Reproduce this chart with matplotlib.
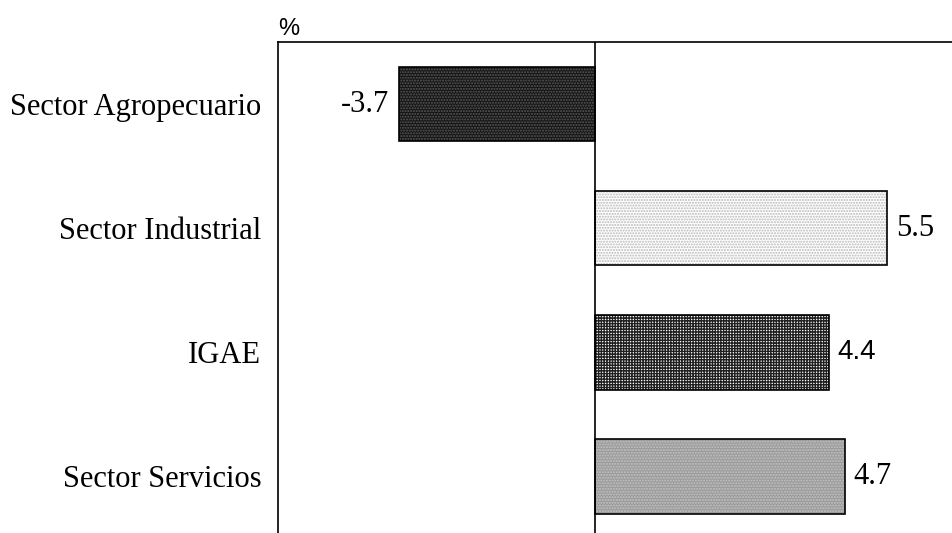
#!/usr/bin/env python3

import matplotlib; matplotlib.use('Agg')
import matplotlib.pyplot as plt

labels = ['Sector Agropecuario', 'Sector Industrial', 'IGAE', 'Sector Servicios']
values = [-3.7, 5.5, 4.4, 4.7]
value_fonts = ['Liberation Serif', 'Liberation Serif', 'Liberation Sans', 'Liberation Serif']
faces = ['#141414', '#ffffff', '#ffffff', '#9a9a9a']
hatch_colors = ['#5a5a5a', '#b8b8b8', '#202020', '#c4c4c4']
hatches = ['......', '......', '++++++', '......']

fig = plt.figure(figsize=[9.53, 5.33], dpi=100)
ax = fig.add_axes([278 / 953, -0.0103, 1.0, 0.9315])

ypos = list(range(len(labels)))
# Patterned fill first, then a plain black outline on top
for y, v, fc, hc, h in zip(ypos, values, faces, hatch_colors, hatches):
  ax.barh(y, v, height=0.6, color=fc, edgecolor=hc, hatch=h, linewidth=0)
ax.barh(ypos, values, height=0.6, facecolor='none', edgecolor='black', linewidth=1.2)

for y, v, fam in zip(ypos, values, value_fonts):
  size = 20 if fam == 'Liberation Sans' else 22
  if v < 0:
    ax.text(v - 0.18, y, '%.1f' % v, ha='right', va='center', fontsize=size, family=fam)
  else:
    ax.text(v + 0.17, y, '%.1f' % v, ha='left', va='center', fontsize=size, family=fam)

ax.axvline(0, color='black', linewidth=1.2)
ax.set_xlim(-5.97, -5.97 + 953 / 53.1)
ax.set_ylim(3.5, -0.5)
ax.set_xticks([])
ax.set_yticks(ypos)
ax.set_yticklabels(labels, fontsize=22, family='Liberation Serif')
ax.tick_params(axis='y', length=0, pad=12)
for side in ['right', 'bottom']:
  ax.spines[side].set_visible(False)
ax.spines['left'].set_linewidth(1.2)
ax.spines['top'].set_linewidth(1.2)

fig.text(278 / 953, 1 - 29 / 533, '%', fontsize=17, family='Liberation Sans', ha='left', va='center')

fig.savefig('out.png', dpi=100)
